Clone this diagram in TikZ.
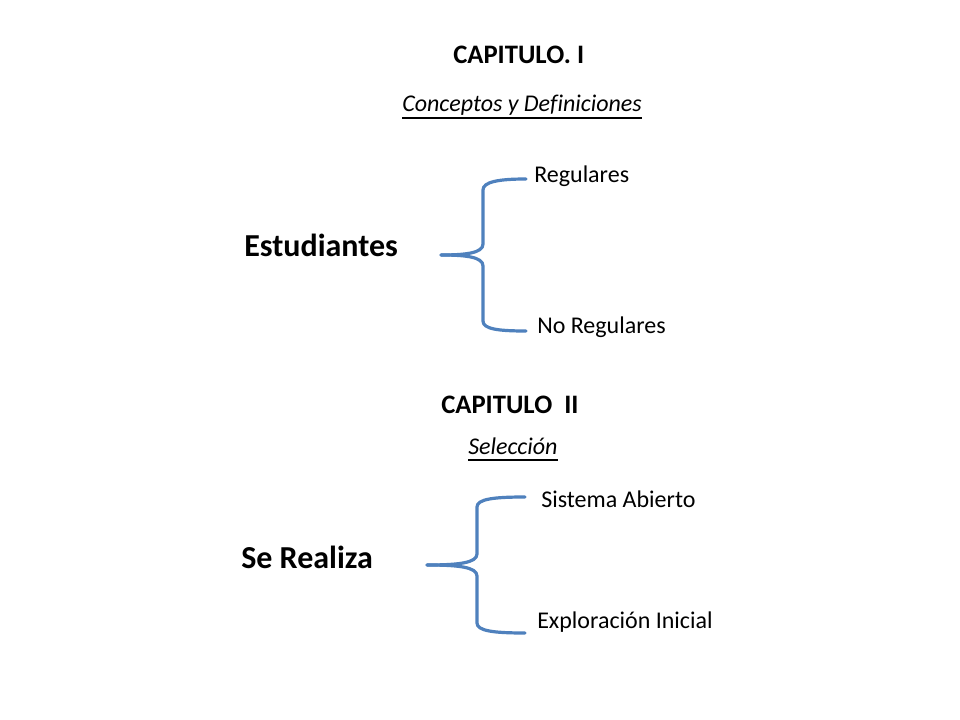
\documentclass[tikz,border=0pt]{standalone}
\usepackage{fontspec}
\setmainfont{Carlito}
\definecolor{bracecol}{HTML}{4F81BD}
\tikzset{
  small/.style={font=\fontsize{18}{22}\selectfont, inner sep=0pt, anchor=base west},
  head/.style={font=\fontsize{20}{24}\selectfont\bfseries, inner sep=0pt, anchor=base west},
  big/.style={font=\fontsize{24}{29}\selectfont\bfseries, inner sep=0pt, anchor=base west},
  sub/.style={font=\fontsize{18}{22}\selectfont\itshape, inner sep=0pt, anchor=base west},
  uline/.style={draw=black, line width=1.2pt},
  bracepath/.style={draw=bracecol, line width=2.4pt, line cap=round, line join=round},
}
\begin{document}
\begin{tikzpicture}[x=0.75pt,y=-0.75pt]
\useasboundingbox (0,0) rectangle (960,720);
\fill[white] (0,0) rectangle (960,720);

\node[head] (cap1) at (453,64) {CAPITULO. I};
\node[sub] (conc) at (402,112) {Conceptos y Def\kern0pt iniciones};
\draw[uline] ([yshift=-6*0.75pt]conc.base west) -- ([yshift=-6*0.75pt]conc.base east);
\node[big] (est) at (244,257) {Estudiantes};
\node[small] (reg) at (534,183) {Regulares};
\node[small] (noreg) at (537,334) {No Regulares};

\node[head] (cap2) at (441,413) {CAPITULO\ \ II};
\node[sub] (sel) at (468,454) {Selección};
\draw[uline] ([yshift=-6*0.75pt]sel.base west) -- ([yshift=-6*0.75pt]sel.base east);
\node[big] (ser) at (241,568) {Se Realiza};
\node[small] (sis) at (541,507) {Sistema Abierto};
\node[small] (exp) at (537,628) {Exploración Inicial};

% brace 1
\coordinate (b1tip) at (441,255);
\coordinate (b1top) at (526,179);
\coordinate (b1bot) at (526,331);
\draw[bracepath] (b1tip) .. controls (466,255) and (483,253) .. (483,244)
  -- (483,190) .. controls (483,182) and (498,179) .. (b1top);
\draw[bracepath] (b1tip) .. controls (466,255) and (483,257) .. (483,266)
  -- (483,321) .. controls (483,329) and (498,331) .. (b1bot);

% brace 2
\coordinate (b2tip) at (427,565);
\coordinate (b2top) at (525,497);
\coordinate (b2bot) at (525,633);
\draw[bracepath] (b2tip) .. controls (458,565) and (477,563) .. (477,554)
  -- (477,507) .. controls (477,499) and (494,497) .. (b2top);
\draw[bracepath] (b2tip) .. controls (458,565) and (477,567) .. (477,576)
  -- (477,623) .. controls (477,631) and (494,633) .. (b2bot);
\end{tikzpicture}
\end{document}
